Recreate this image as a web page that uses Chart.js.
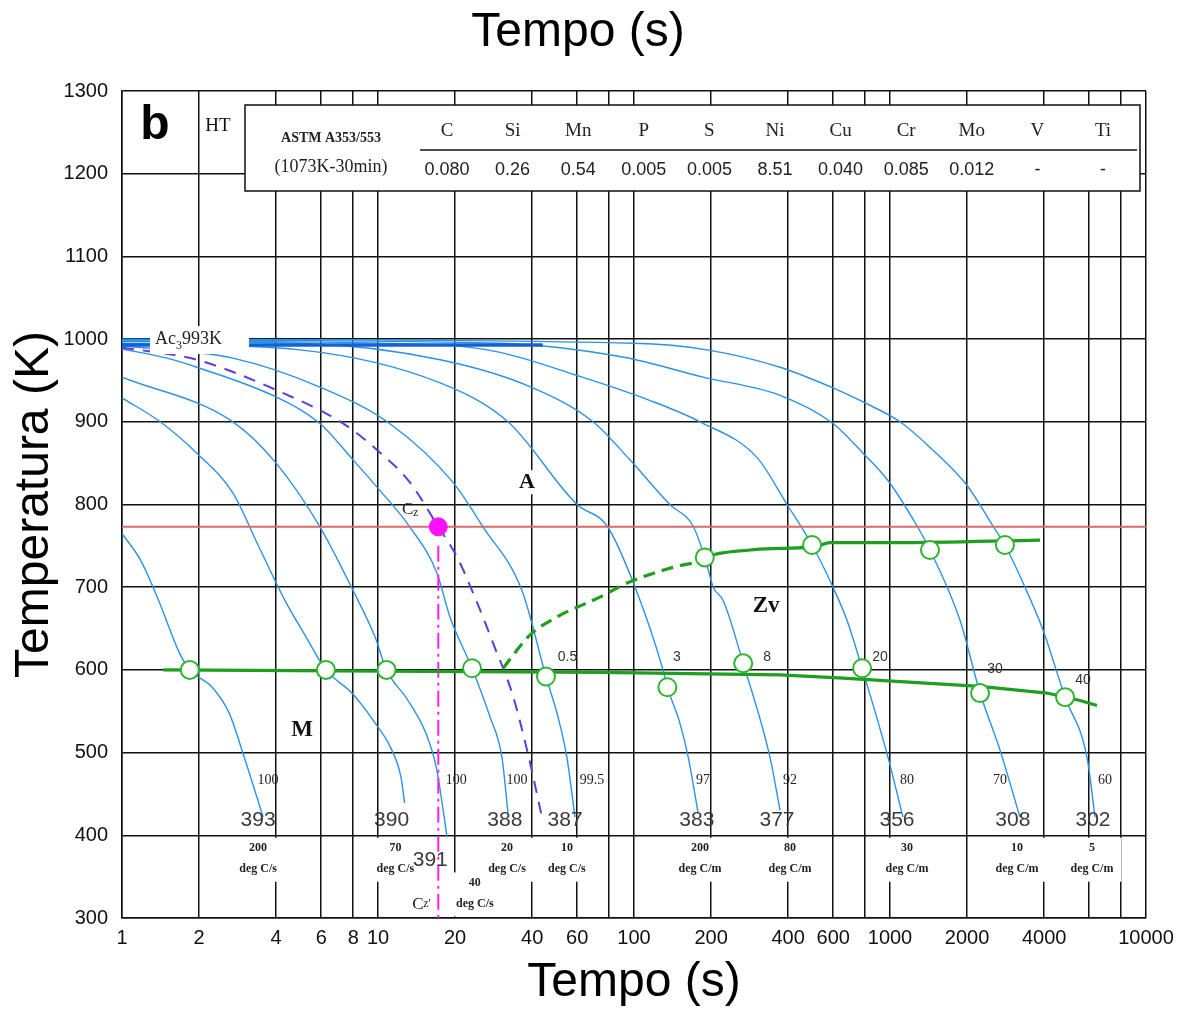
<!DOCTYPE html>
<html>
<head>
<meta charset="utf-8">
<title>Diagrama CCT - ASTM A353/553</title>
<script src="https://cdn.jsdelivr.net/npm/chart.js@4.4.1/dist/chart.umd.min.js"></script>
<style>
  html, body { margin: 0; padding: 0; background: #fff; }
  #wrap { width: 1194px; height: 1012px; position: relative; }
</style>
</head>
<body>
<div id="wrap"><canvas id="cct"></canvas></div>
<script>
// eixo do tempo (log) e da temperatura
const tempoGrid = [1, 2, 4, 6, 8, 10, 20, 40, 60, 80, 100, 200, 400, 600, 800, 1000, 2000, 4000, 6000, 8000, 10000];
const tempoSemRotulo = [80, 800, 6000, 8000];
const tempMin = 300, tempMax = 1300, tempPasso = 100;

// curvas de resfriamento [tempo s, temperatura K]
const curva200s = [[1, 765], [1.18, 733], [1.39, 684], [1.68, 620], [1.84, 600], [2.25, 579], [2.62, 548], [2.97, 499], [3.56, 422]];
const curva70s = [[1, 929], [1.41, 900], [1.96, 862], [2.71, 814], [3.40, 751], [4.33, 684], [5.23, 640], [6.26, 600], [7.91, 572], [9.73, 536], [11.2, 506], [12.3, 470], [12.7, 439]];
const curva40s = [[1, 954], [2.71, 900], [4.0, 850], [5.93, 773], [7.99, 696], [9.73, 640], [10.8, 600], [13.1, 563], [15.4, 523], [16.9, 482], [17.9, 434], [18.6, 398]];
const curva20s = [[1, 988], [1.5, 977], [1.96, 966], [4.0, 930], [5.93, 898], [7.99, 854], [9.91, 821], [13.3, 773], [17.0, 717], [19.1, 664], [23.3, 602], [27.4, 543], [30.5, 494], [32.2, 427]];
const curva10s = [[1, 992], [2.71, 977], [5.93, 942], [11.1, 898], [19.6, 827], [25.7, 773], [36.5, 696], [45.3, 592], [50.5, 543], [54.7, 494], [58.8, 422]];
const curva200m = [[1, 995], [4.96, 987], [17.5, 947], [32.2, 900], [59.9, 800], [78.5, 774], [101, 700], [129, 603], [135, 579], [151, 536], [163, 494], [178, 427]];
const curva80m = [[1, 997], [4.96, 995], [17.5, 975], [39.6, 942], [69.2, 900], [96.4, 854], [138, 800], [170, 774], [189, 736], [204, 700], [223, 684], [267, 608], [340, 494], [372, 430]];
const curva30m = [[1, 998], [17.5, 993], [30, 984], [59.9, 956], [115, 926], [181, 900], [302, 857], [396, 800], [496, 751], [599, 700], [679, 660], [778, 602], [973, 499], [1124, 422]];
const curva10m = [[1, 999], [30, 995], [91.4, 978], [186, 954], [372, 932], [599, 898], [785, 862], [982, 829], [1275, 774], [1433, 745], [1877, 660], [2248, 572], [2690, 503], [3218, 422]];
const curva5m = [[1, 1000], [100, 995], [193, 987], [372, 966], [599, 941], [785, 924], [1094, 900], [1433, 869], [2000, 823], [2525, 774], [2812, 751], [3367, 700], [3963, 648], [4829, 567], [5884, 494], [6323, 422]];

// curva critica tracejada, linha Ac3 e ponto Cz
const curvaCritica = [[1, 990], [1.96, 975], [4.03, 938], [7.3, 898], [9.91, 866], [13.3, 827], [17.2, 773], [20.4, 736], [24.4, 681], [28.6, 627], [33.4, 572], [38.5, 499], [43.7, 422]];
const linhaAc3 = [[1, 993], [44, 993]];
const linhaVermelha = [[1, 773], [10000, 773]];
const pontoCz = [[17.2, 773]];
const linhaCz = [[17.2, 750], [17.2, 300]];

// linhas de transformacao (Ms e inicio Zv)
const linhaMs = [[1.45, 600], [73.6, 597], [372, 594], [655, 590], [1230, 585], [2248, 580], [4103, 572], [5523, 563], [6437, 557]];
const zvTracejada = [[30.8, 602], [39.2, 642], [50, 664], [73.6, 688], [93.9, 705], [142, 724], [176, 730]];
const zvCheia = [[176, 730], [189, 736], [284, 745], [372, 747], [510, 749], [583, 754], [1065, 754], [3855, 757]];
const marcasInferiores = [[1.84, 600], [6.26, 600], [10.8, 600], [23.3, 602], [45.3, 592], [135, 579], [267, 608], [778, 602], [2248, 572], [4829, 567]];
const marcasSuperiores = [[189, 736], [496, 751], [1433, 745], [2812, 751]];

// rotulos das curvas
const durezas = ['393', '390', '391', '388', '387', '383', '377', '356', '308', '302'];
const taxas = ['200', '70', '40', '20', '10', '200', '80', '30', '10', '5'];
const unidades = ['deg C/s', 'deg C/s', 'deg C/s', 'deg C/s', 'deg C/s', 'deg C/m', 'deg C/m', 'deg C/m', 'deg C/m', 'deg C/m'];
const martensita = ['100', '', '100', '100', '99.5', '97', '92', '80', '70', '60'];
const zvPorcento = ['0.5', '3', '8', '20', '30', '40'];

// composicao quimica
const elementos = ['C', 'Si', 'Mn', 'P', 'S', 'Ni', 'Cu', 'Cr', 'Mo', 'V', 'Ti'];
const teores = ['0.080', '0.26', '0.54', '0.005', '0.005', '8.51', '0.040', '0.085', '0.012', '-', '-'];

// posicao dos rotulos (tempo, temperatura)
const posDureza = [[3.4, 418], [11.3, 418], [16.0, 370], [31.3, 418], [53.8, 418], [176, 418], [362, 418], [1065, 418], [3020, 418], [6210, 418]];
const posTaxa = [[3.4, 385], [11.7, 385], [23.9, 343], [31.9, 385], [54.7, 385], [181, 385], [407, 385], [1165, 385], [3135, 385], [6150, 385]];
const posMartensita = [[3.72, 467], null, [20.2, 467], [34.9, 467], [68.5, 467], [186, 467], [407, 467], [1165, 467], [2690, 467], [6920, 467]];
const posZv = [[55, 615], [147, 615], [331, 615], [914, 615], [2572, 601], [5677, 588]];

const pts = arr => arr.map(([x, y]) => ({ x, y }));

const AZUL = '#2b93e6';
const VERDE = '#1f9e1f';
const SANS = '"Liberation Sans", Arial, sans-serif';
const SERIF = '"Liberation Serif", "Times New Roman", serif';

const curvas = [curva200s, curva70s, curva40s, curva20s, curva10s, curva200m, curva80m, curva30m, curva10m, curva5m];

function texto(ctx, s, x, y, font, cor, fundo) {
    ctx.font = font;
    ctx.textAlign = 'center';
    ctx.textBaseline = 'middle';
    if (fundo) {
        const w = ctx.measureText(s).width;
        ctx.fillStyle = '#fff';
        ctx.fillRect(x - w / 2 - fundo, y - 12, w + 2 * fundo, 24);
    }
    ctx.fillStyle = cor;
    ctx.fillText(s, x, y);
}

const anotacoes = {
    id: 'anotacoes',
    afterDatasetsDraw(chart) {
        const ctx = chart.ctx;
        const sx = chart.scales.x, sy = chart.scales.y;
        const px = v => sx.getPixelForValue(v);
        const py = v => sy.getPixelForValue(v);
        ctx.save();

        // titulo superior
        texto(ctx, 'Tempo (s)', 578, 33, '48px ' + SANS, '#000');

        // letra do painel e HT
        texto(ctx, 'b', 155, 126, 'bold 48px ' + SANS, '#000');
        texto(ctx, 'HT', 218, 126, '19px ' + SERIF, '#111');

        // tabela de composicao
        ctx.fillStyle = '#fff';
        ctx.fillRect(245, 105, 895, 86);
        ctx.strokeStyle = '#111';
        ctx.lineWidth = 1.5;
        ctx.strokeRect(245, 105, 895, 86);
        ctx.beginPath();
        ctx.moveTo(420, 150);
        ctx.lineTo(1137, 150);
        ctx.stroke();
        texto(ctx, 'ASTM A353/553', 331, 138, 'bold 14px ' + SERIF, '#222');
        texto(ctx, '(1073K-30min)', 331, 167, '18px ' + SERIF, '#222');
        elementos.forEach((el, i) => {
            const cx = 447 + i * 65.6;
            texto(ctx, el, cx, 131, '19px ' + SERIF, '#222');
            texto(ctx, teores[i], cx, 170, '18px ' + SANS, '#222');
        });

        // Ac3
        ctx.fillStyle = '#fff';
        ctx.fillRect(150, 326, 99, 28);
        ctx.fillStyle = '#222';
        ctx.textAlign = 'left';
        ctx.textBaseline = 'alphabetic';
        ctx.font = '18px ' + SERIF;
        ctx.fillText('Ac', 155, 344);
        const w = ctx.measureText('Ac').width;
        ctx.font = '12px ' + SERIF;
        ctx.fillText('3', 155 + w, 349);
        const w3 = ctx.measureText('3').width;
        ctx.font = '18px ' + SERIF;
        ctx.fillText('993K', 155 + w + w3, 344);

        // Cz e Cz'
        ctx.font = '17px ' + SERIF;
        ctx.fillText('C', px(12.4), py(796) + 6);
        ctx.font = '12px ' + SERIF;
        ctx.fillText('z', px(12.4) + 11, py(796) + 8);
        ctx.font = '17px ' + SERIF;
        ctx.fillText('C', px(13.6), py(318) + 6);
        ctx.font = '12px ' + SERIF;
        ctx.fillText("z'", px(13.6) + 11, py(318) + 4);

        // regioes
        texto(ctx, 'A', px(38.2), py(827), 'bold 22px ' + SERIF, '#111', 5);
        texto(ctx, 'Zv', px(328), py(677), 'bold 23px ' + SERIF, '#111', 4);
        texto(ctx, 'M', px(5.05), py(527), 'bold 23px ' + SERIF, '#111');

        // % de Zv junto aos pontos
        zvPorcento.forEach((s, i) => {
            texto(ctx, s, px(posZv[i][0]), py(posZv[i][1]), '14px ' + SANS, '#333');
        });

        // % de martensita
        martensita.forEach((s, i) => {
            if (!s) return;
            texto(ctx, s, px(posMartensita[i][0]), py(posMartensita[i][1]), '14px ' + SERIF, '#222');
        });

        // taxas de resfriamento
        taxas.forEach((s, i) => {
            const cx = px(posTaxa[i][0]);
            const cy = py(posTaxa[i][1]);
            ctx.font = 'bold 12px ' + SERIF;
            const ww = Math.max(ctx.measureText(unidades[i]).width, ctx.measureText(s).width) + 16;
            ctx.fillStyle = '#fff';
            ctx.fillRect(cx - ww / 2, cy - 10, ww, 44);
            texto(ctx, s, cx, cy, 'bold 12px ' + SERIF, '#222');
            texto(ctx, unidades[i], cx, cy + 21, 'bold 12px ' + SERIF, '#222');
        });

        // durezas
        durezas.forEach((s, i) => {
            texto(ctx, s, px(posDureza[i][0]), py(posDureza[i][1]), '21px ' + SANS, '#3a3a3a');
        });

        ctx.restore();
    }
};

const curvaDs = curvas.map(c => ({
    data: pts(c),
    showLine: true,
    borderColor: AZUL,
    borderWidth: 1.4,
    pointRadius: 0,
    cubicInterpolationMode: 'monotone'
}));

const datasets = [
    {   // pontos de inicio de transformacao
        data: pts(marcasInferiores.concat(marcasSuperiores)),
        showLine: false,
        pointRadius: 9,
        pointBackgroundColor: '#fff',
        pointBorderColor: '#2db52d',
        pointBorderWidth: 2
    },
    {
        data: pts(pontoCz),
        showLine: false,
        pointRadius: 9,
        pointBackgroundColor: '#ff10ff',
        pointBorderColor: '#ff10ff'
    },
    {
        data: pts(linhaMs), showLine: true, borderColor: VERDE, borderWidth: 3.2, pointRadius: 0
    },
    {
        data: pts(zvCheia), showLine: true, borderColor: VERDE, borderWidth: 3.2, pointRadius: 0,
        cubicInterpolationMode: 'monotone'
    },
    {
        data: pts(zvTracejada), showLine: true, borderColor: VERDE, borderWidth: 3.2, pointRadius: 0,
        borderDash: [12, 7], cubicInterpolationMode: 'monotone'
    },
    {
        data: pts(linhaCz), showLine: true, borderColor: '#ff1eff', borderWidth: 2, pointRadius: 0,
        borderDash: [16, 5, 3, 5]
    },
    {
        data: pts(curvaCritica), showLine: true, borderColor: '#5a3fd8', borderWidth: 2, pointRadius: 0,
        borderDash: [12, 9], cubicInterpolationMode: 'monotone'
    },
    {
        data: pts(linhaVermelha), showLine: true, borderColor: '#d96a6a', borderWidth: 2, pointRadius: 0
    },
    {
        data: pts(linhaAc3), showLine: true, borderColor: '#1560d6', borderWidth: 3.5, pointRadius: 0
    }
].concat(curvaDs);

const CCT = document.getElementById('cct');

let grafico = new Chart(CCT, {
    type: 'scatter',
    data: { datasets: datasets },
    plugins: [anotacoes],
    options: {
        responsive: true,
        maintainAspectRatio: false,
        animation: false,
        layout: { padding: { top: 91, right: 48, left: 0, bottom: 0 } },
        plugins: {
            legend: { display: false },
            tooltip: { enabled: false }
        },
        scales: {
            x: {
                type: 'logarithmic',
                min: 1,
                max: 10000,
                afterBuildTicks(scale) {
                    scale.ticks = tempoGrid.map(v => ({ value: v }));
                },
                afterFit(scale) { scale.height = 94; },
                grid: { color: '#111', lineWidth: 1.5, drawTicks: false },
                border: { color: '#111', width: 1.5 },
                ticks: {
                    autoSkip: false,
                    maxRotation: 0,
                    padding: 8,
                    color: '#111',
                    font: { family: SANS, size: 20 },
                    callback: v => tempoSemRotulo.includes(v) ? '' : String(v)
                },
                title: {
                    display: true,
                    text: 'Tempo (s)',
                    color: '#000',
                    font: { family: SANS, size: 48 },
                    padding: { top: 0, bottom: 0 }
                }
            },
            y: {
                type: 'linear',
                min: tempMin,
                max: tempMax,
                afterFit(scale) { scale.width = 122; },
                grid: { color: '#111', lineWidth: 1.5, drawTicks: false },
                border: { color: '#111', width: 1.5 },
                ticks: {
                    stepSize: tempPasso,
                    padding: 14,
                    color: '#111',
                    font: { family: SANS, size: 20 },
                    callback: v => String(v)
                },
                title: {
                    display: true,
                    text: 'Temperatura (K)',
                    color: '#000',
                    font: { family: SANS, size: 48 },
                    padding: { top: 6, bottom: 0 }
                }
            }
        }
    }
});
</script>
</body>
</html>
